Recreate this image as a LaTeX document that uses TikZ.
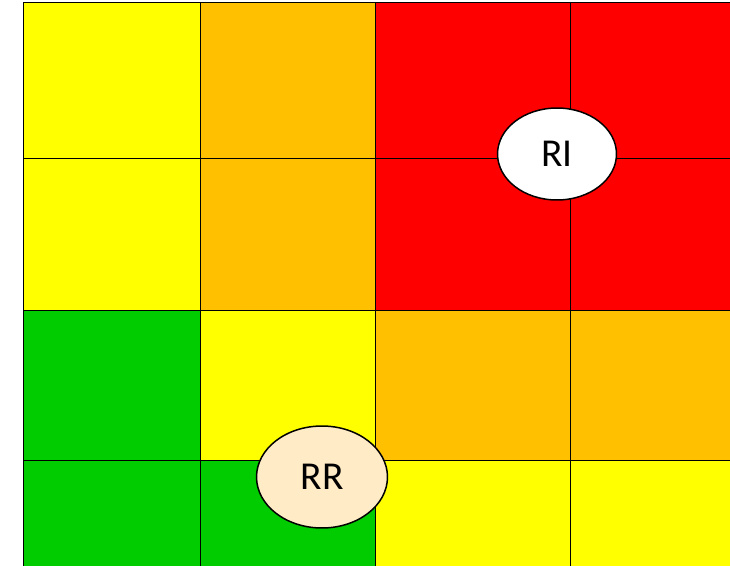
\documentclass[tikz,border=0pt]{standalone}
\usepackage{fontspec}
\setmainfont{Carlito}
\usetikzlibrary{shapes.geometric}

\definecolor{riskyellow}{HTML}{FFFF00}
\definecolor{riskorange}{HTML}{FFC000}
\definecolor{riskred}{HTML}{FF0000}
\definecolor{riskgreen}{HTML}{00CC00}
\definecolor{labelcream}{HTML}{FFEBC6}

\begin{document}
\begin{tikzpicture}[x=0.02cm, y=-0.02cm]
        \tikzset{
            cell line/.style={
                    draw=black, line width=0.55pt
                },
            risk label/.style={
                    ellipse, draw=black, line width=0.85pt, inner sep=0pt,
                    font=\fontsize{22.5}{22.5}\selectfont
                }
        }

        \useasboundingbox (0,0) rectangle (730,565);
        \clip (0,0) rectangle (730,565);

        % coloured cells, row by row
        \foreach \xa/\xb/\ya/\yb/\cellcol in {
                23/200/2/158/riskyellow, 200/375/2/158/riskorange, 375/570/2/158/riskred, 570/760/2/158/riskred,
                23/200/158/310/riskyellow, 200/375/158/310/riskorange, 375/570/158/310/riskred, 570/760/158/310/riskred,
                23/200/310/460/riskgreen, 200/375/310/460/riskyellow, 375/570/310/460/riskorange, 570/760/310/460/riskorange,
                23/200/460/600/riskgreen, 200/375/460/600/riskgreen, 375/570/460/600/riskyellow, 570/760/460/600/riskyellow}
            \fill[\cellcol] (\xa,\ya) rectangle (\xb,\yb);

        % grid
        \draw[cell line] (23,2) rectangle (760,600);
        \foreach \gx in {200, 375, 570}
            \draw[cell line] (\gx,2) -- (\gx,600);
        \foreach \gy in {158, 310, 460}
            \draw[cell line] (23,\gy) -- (760,\gy);

        \node[risk label, fill=white, minimum width=2.38cm, minimum height=1.84cm] (ri) at (557,154) {RI};
        \node[risk label, fill=labelcream, minimum width=2.62cm, minimum height=2.04cm] (rr) at (322,477) {RR};
    \end{tikzpicture}
\end{document}
